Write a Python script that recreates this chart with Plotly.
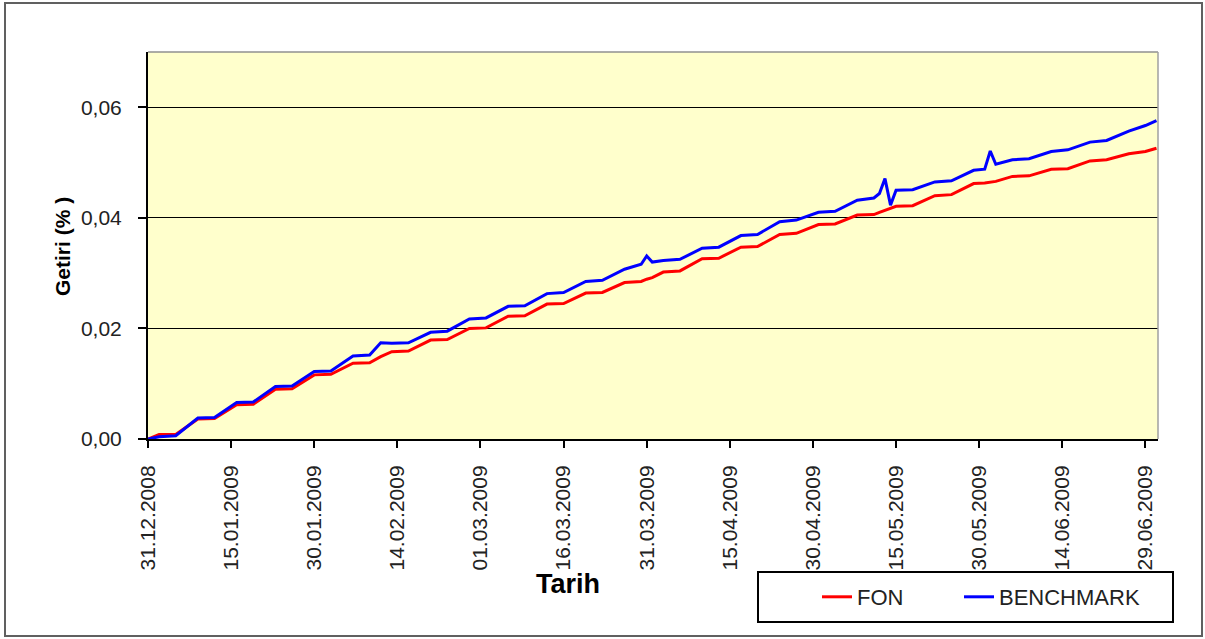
import plotly.graph_objects as go

dates = [
    "2008-12-31", "2009-01-02", "2009-01-05", "2009-01-09", "2009-01-12", "2009-01-16",
    "2009-01-19", "2009-01-23", "2009-01-26", "2009-01-30", "2009-02-02", "2009-02-06",
    "2009-02-09", "2009-02-11", "2009-02-13", "2009-02-16", "2009-02-20", "2009-02-23",
    "2009-02-27", "2009-03-02", "2009-03-06", "2009-03-09", "2009-03-13", "2009-03-16",
    "2009-03-20", "2009-03-23", "2009-03-27", "2009-03-30", "2009-03-31", "2009-04-01",
    "2009-04-03", "2009-04-06", "2009-04-10", "2009-04-13", "2009-04-17", "2009-04-20",
    "2009-04-24", "2009-04-27", "2009-05-01", "2009-05-04", "2009-05-08", "2009-05-11",
    "2009-05-12", "2009-05-13", "2009-05-14", "2009-05-15", "2009-05-18", "2009-05-22",
    "2009-05-25", "2009-05-29", "2009-05-31", "2009-06-01", "2009-06-02", "2009-06-05",
    "2009-06-08", "2009-06-12", "2009-06-15", "2009-06-19", "2009-06-22", "2009-06-26",
    "2009-06-29", "2009-07-01",
]

fon = [
    0.0000, 0.0008, 0.0008, 0.0036, 0.0037, 0.0062,
    0.0063, 0.0090, 0.0091, 0.0116, 0.0117, 0.0137,
    0.0138, 0.0149, 0.0158, 0.0159, 0.0179, 0.0180,
    0.0200, 0.0201, 0.0222, 0.0223, 0.0244, 0.0245,
    0.0264, 0.0265, 0.0283, 0.0285, 0.0289, 0.0292,
    0.0302, 0.0304, 0.0326, 0.0327, 0.0347, 0.0348,
    0.0370, 0.0372, 0.0388, 0.0389, 0.0405, 0.0406,
    0.0410, 0.0414, 0.0417, 0.0421, 0.0422, 0.0440,
    0.0442, 0.0462, 0.0463, 0.0464, 0.0466, 0.0475,
    0.0476, 0.0488, 0.0489, 0.0503, 0.0505, 0.0516,
    0.0520, 0.0526,
]

benchmark = [
    0.0000, 0.0004, 0.0006, 0.0038, 0.0039, 0.0066,
    0.0067, 0.0095, 0.0096, 0.0122, 0.0123, 0.0150,
    0.0152, 0.0174, 0.0173, 0.0174, 0.0193, 0.0195,
    0.0217, 0.0219, 0.0240, 0.0241, 0.0263, 0.0265,
    0.0285, 0.0287, 0.0307, 0.0316, 0.0331, 0.0320,
    0.0323, 0.0325, 0.0345, 0.0347, 0.0368, 0.0370,
    0.0393, 0.0396, 0.0410, 0.0412, 0.0432, 0.0436,
    0.0444, 0.0471, 0.0423, 0.0450, 0.0451, 0.0465,
    0.0467, 0.0486, 0.0488, 0.0521, 0.0497, 0.0505,
    0.0507, 0.0520, 0.0523, 0.0537, 0.0540, 0.0557,
    0.0567, 0.0576,
]

series_names = ["FON", "BENCHMARK"]
series_colors = ["#FF0000", "#0000FF"]
series_legends = ["legend", "legend2"]

FONT = "Liberation Sans, Arial, sans-serif"

fig = go.Figure()
for name, vals, col, lg in zip(series_names, [fon, benchmark], series_colors, series_legends):
    fig.add_trace(go.Scatter(x=dates, y=vals, mode="lines", name=name, legend=lg,
                             line=dict(color=col, width=3)))

W, H = 1205, 639
L, R, T, B = 148, 47, 52, 200
pw, ph = W - L - R, H - T - B


def px(x):
    return (x - L) / pw


def py(y):
    return (H - B - y) / ph


legend_common = dict(orientation="h", yanchor="middle", xanchor="left",
                     bgcolor="rgba(0,0,0,0)", borderwidth=0,
                     font=dict(size=22, family=FONT, color="#222222"), itemwidth=30)

fig.update_layout(
    width=W, height=H,
    margin=dict(l=L, r=R, t=T, b=B),
    paper_bgcolor="white",
    plot_bgcolor="#FFFFCC",
    separators=",.",
    font=dict(family=FONT, color="#222222"),
    showlegend=True,
    legend=dict(x=px(817), y=py(597), **legend_common),
    legend2=dict(x=px(959), y=py(597), **legend_common),
    xaxis=dict(
        type="date",
        range=["2008-12-31", "2009-07-01 06:30"],
        tick0="2008-12-31", dtick=15 * 86400000,
        tickformat="%d.%m.%Y", tickangle=-90,
        ticks="outside", ticklen=7, tickwidth=2, tickcolor="black",
        showline=True, linecolor="black", linewidth=2,
        showgrid=False, zeroline=False,
        tickfont=dict(size=21, family=FONT, color="#222222"),
        ticklabelstandoff=9,
    ),
    yaxis=dict(
        range=[0, 0.07], dtick=0.02, tick0=0,
        tickformat=".2f",
        ticks="outside", ticklen=8, tickwidth=1.5, tickcolor="black",
        showline=True, linecolor="black", linewidth=2,
        showgrid=True, gridcolor="black", gridwidth=1.2,
        zeroline=False,
        tickfont=dict(size=21, family=FONT, color="#222222"),
        ticklabelstandoff=12,
    ),
    shapes=[
        dict(type="rect", xref="paper", yref="paper", x0=px(5), x1=px(1202), y0=py(636), y1=py(3),
             line=dict(color="#606060", width=2), layer="below"),
        dict(type="line", xref="paper", yref="paper", x0=0, x1=1, y0=1, y1=1,
             line=dict(color="#909090", width=1.5)),
        dict(type="line", xref="paper", yref="paper", x0=1, x1=1, y0=0, y1=1,
             line=dict(color="#A0A0A0", width=1.5)),
        dict(type="rect", xref="paper", yref="paper", x0=px(758), x1=px(1173), y0=py(622), y1=py(572),
             line=dict(color="black", width=2)),
    ],
    annotations=[
        dict(text="<b>Tarih</b>", xref="paper", yref="paper", x=px(568), y=py(584),
             xanchor="center", yanchor="middle", showarrow=False,
             font=dict(size=27, family=FONT, color="black")),
        dict(text="<b>Getiri (% )</b>", xref="paper", yref="paper", x=px(62), y=py(247),
             xanchor="center", yanchor="middle", showarrow=False, textangle=-90,
             font=dict(size=21, family=FONT, color="black")),
    ],
)

fig.write_html("out.html", config={"displayModeBar": False},
               post_script="document.body.style.margin='0';document.body.style.overflow='hidden';")
